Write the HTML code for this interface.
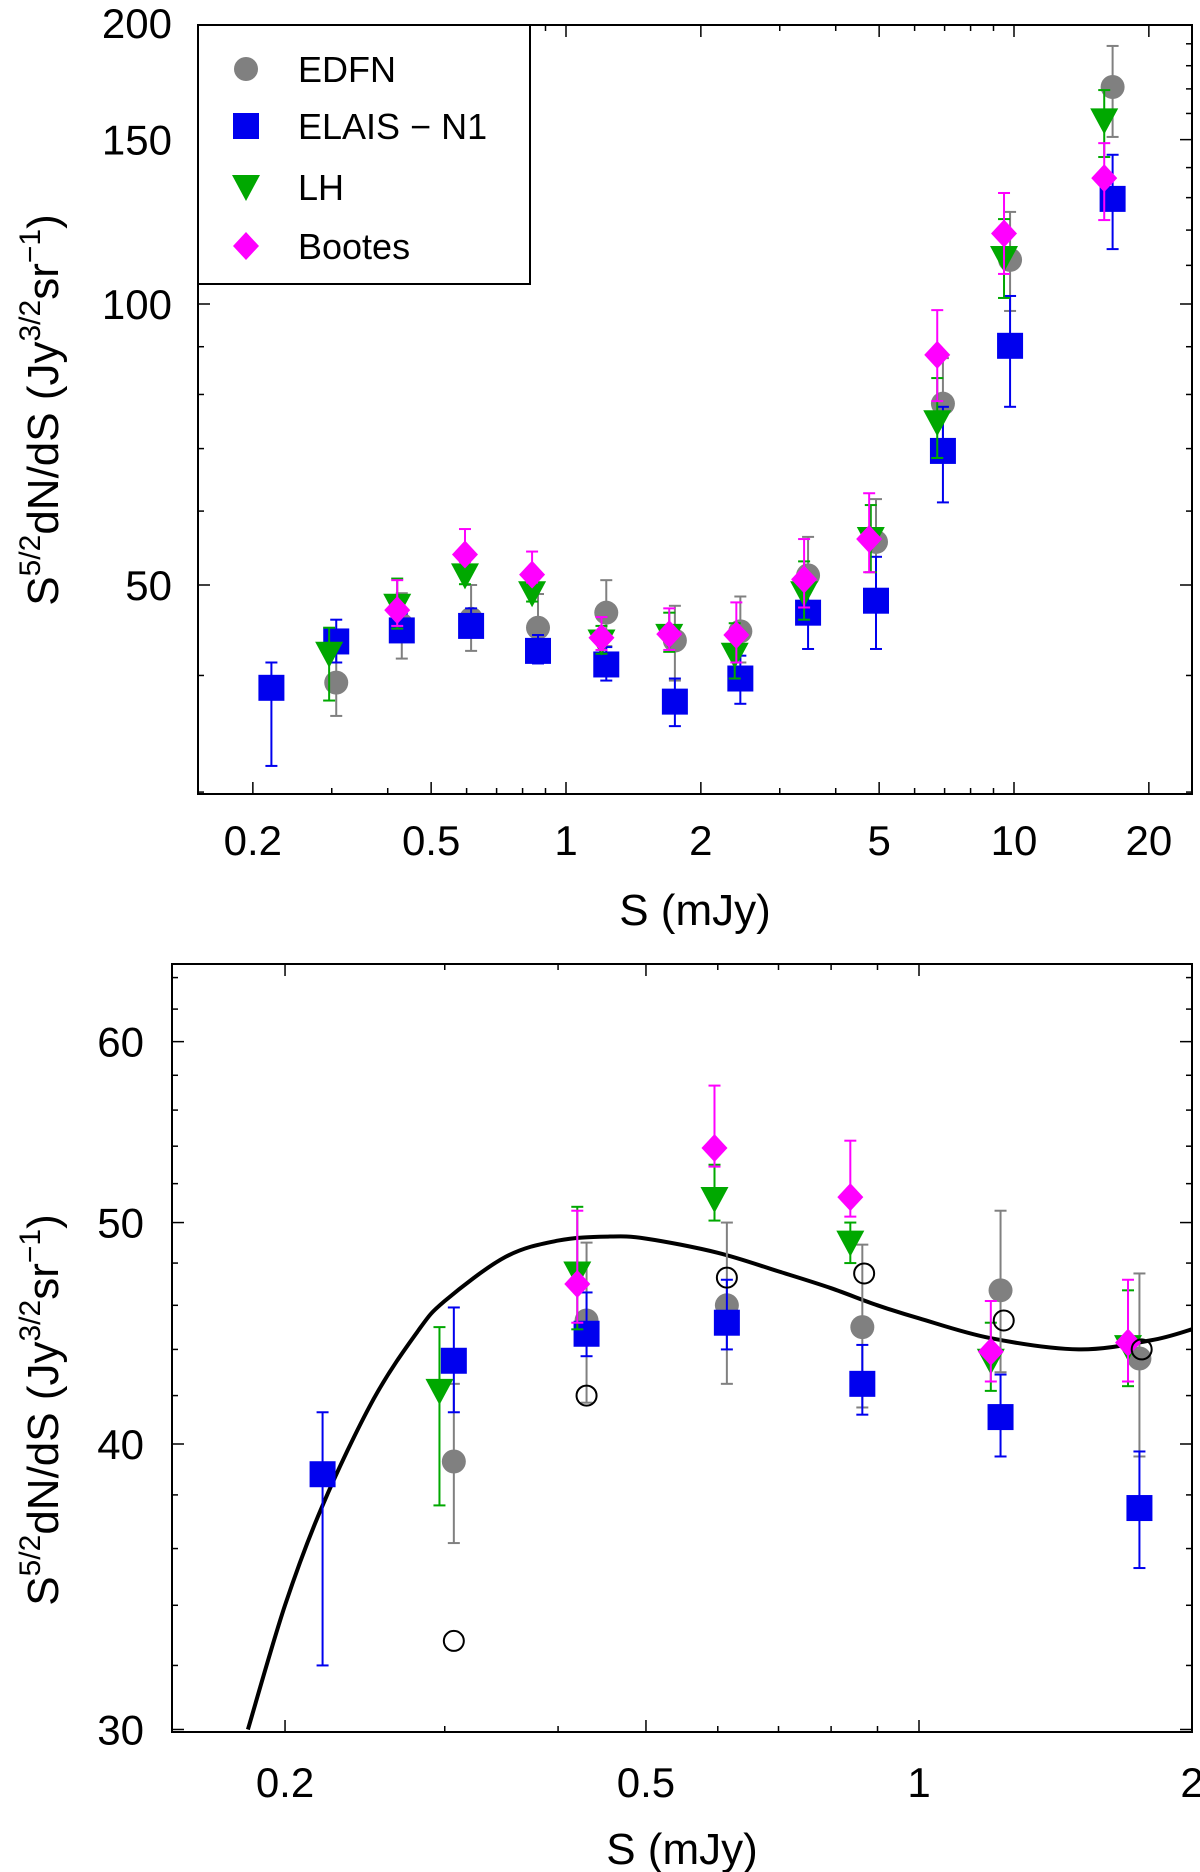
<!DOCTYPE html>
<html><head><meta charset="utf-8"><style>
html,body{margin:0;padding:0;background:#fff}
svg{display:block;font-family:"Liberation Sans",sans-serif}
</style></head><body>
<svg id="fig" width="1200" height="1872" viewBox="0 0 1200 1872"></svg>
<script>
const edfnS=[0.307,0.43,0.614,0.866,1.23,1.75,2.45,3.47,4.92,6.94,9.8,16.6];
const edfnV=[39.3,45.3,46.0,45.0,46.7,43.6,44.6,51.2,55.6,78.2,111.5,170.8];
const edfnLo=[36.2,41.7,42.5,41.5,43.0,39.5,41.3,45.9,49.5,68.4,98.3,151];
const edfnHi=[42.5,49.0,50.0,48.9,50.6,47.5,48.6,56.3,61.8,87.5,125.5,189];
const elaisS=[0.22,0.307,0.43,0.614,0.866,1.23,1.75,2.45,3.47,4.92,6.94,9.8,16.6];
const elaisV=[38.8,43.5,44.7,45.2,42.5,41.1,37.5,39.7,46.7,48.1,69.6,90.2,129.6];
const elaisLo=[32.0,41.3,43.7,44.0,41.2,39.5,35.3,37.3,42.7,42.7,61.3,77.6,114.5];
const elaisHi=[41.3,45.9,46.6,47.2,44.2,42.9,39.7,42.0,50.9,53.6,77.6,102,144.5];
const lhS=[0.296,0.42,0.595,0.84,1.2,1.70,2.38,3.40,4.79,6.74,9.5,15.9];
const lhV=[42.2,47.5,51.2,49.0,43.5,44.1,42.1,49.0,56.0,74.7,112,157.3];
const lhLo=[37.6,44.9,50.1,48.0,42.2,42.4,39.7,45.9,51.6,68.4,101.5,143.7];
const lhHi=[45.0,50.8,53.0,50.0,45.2,46.7,45.5,53.0,60.9,83.3,123.3,169.5];
const bootS=[0.42,0.595,0.84,1.2,1.70,2.40,3.4,4.75,6.74,9.5,15.9];
const bootV=[47.0,53.9,51.3,43.9,44.3,44.2,50.7,56.0,88.2,119,136.4];
const bootLo=[45.2,52.9,50.3,42.6,42.6,41.3,47.3,51.6,78.7,107.7,123];
const bootHi=[50.6,57.4,54.3,46.2,47.2,47.9,56.0,62.7,98.5,131.5,148.7];
const openS=[0.307,0.43,0.614,0.87,1.24,1.76];
const openV=[32.8,42.0,47.3,47.5,45.3,44.0];
const curveS=[0.182,0.2,0.22,0.25,0.28,0.3,0.35,0.4,0.454,0.5,0.6,0.7,0.8,0.9,1.0,1.2,1.5,1.8,2.0];
const curveV=[30,34.0,37.6,41.8,44.8,46.2,48.3,49.1,49.3,49.2,48.5,47.6,46.8,46.0,45.4,44.5,44.0,44.4,44.9];
const topXTicks=[0.2,0.5,1,2,5,10,20];
const topXLabels=["0.2","0.5","1","2","5","10","20"];
const topYTicks=[50,100,150,200];
const topYLabels=["50","100","150","200"];
const botXTicks=[0.2,0.5,1,2];
const botXLabels=["0.2","0.5","1","2"];
const botYTicks=[30,40,50,60];
const botYLabels=["30","40","50","60"];

const NS="http://www.w3.org/2000/svg";
const svg=document.getElementById('fig');
function mk(tag,attrs,parent){const e=document.createElementNS(NS,tag);for(const k in attrs)e.setAttribute(k,attrs[k]);(parent||svg).appendChild(e);return e;}
const L=Math.log10;

function panel(cfg){
  const g=mk('g',{});
  
  
  const x=s=>cfg.x0+cfg.kx*L(s);
  const y=v=>cfg.y0-cfg.ky*L(v/cfg.yref);
  const left=cfg.left,right=cfg.right,tp=cfg.tp,bottom=cfg.bottom;
  const minX=[];for(let d=0.1;d<100;d*=10)for(let m=1;m<10;m++)minX.push(d*m);
  minX.forEach(s=>{const px=x(s);if(px<=left||px>=right)return;
    const major=cfg.xt.some(t=>Math.abs(t-s)<1e-9);const len=major?12:6;
    mk('line',{x1:px,y1:bottom,x2:px,y2:bottom-len,stroke:'#000','stroke-width':1.5},g);
    mk('line',{x1:px,y1:tp,x2:px,y2:tp+len,stroke:'#000','stroke-width':1.5},g);});
  const minY=[];for(let v=cfg.ymin;v<=cfg.ymax;v+=cfg.ystep)minY.push(v);
  minY.forEach(v=>{const py=y(v);if(py<=tp||py>=bottom)return;
    const major=cfg.yt.includes(v);const len=major?12:6;
    mk('line',{x1:left,y1:py,x2:left+len,y2:py,stroke:'#000','stroke-width':1.5},g);
    mk('line',{x1:right,y1:py,x2:right-len,y2:py,stroke:'#000','stroke-width':1.5},g);});
  const fr=mk('rect',{x:left,y:tp,width:right-left,height:bottom-tp,fill:'none',stroke:'#000','stroke-width':2},g);
  
  
  cfg.xt.forEach((s,i)=>{const t=mk('text',{x:x(s),y:cfg.xly,'font-size':42,'text-anchor':'middle'},g);t.textContent=cfg.xl[i];
    
    });
  cfg.yt.forEach((v,i)=>{const t=mk('text',{x:cfg.ylx,y:y(v)+15,'font-size':42,'text-anchor':'end'},g);t.textContent=cfg.yl[i];
    
    });
  const xt=mk('text',{x:(left+right)/2,y:cfg.xtitleY,'font-size':44,'text-anchor':'middle'},g);xt.textContent='S (mJy)';
  
  
  const yt=mk('text',{x:0,y:0,'font-size':44,'text-anchor':'middle',transform:`translate(${cfg.ytitleX},${cfg.ytitleY}) rotate(-90)`},g);
  yt.innerHTML='S<tspan font-size="30" dy="-18">5/2</tspan><tspan dy="18">dN/dS (Jy</tspan><tspan font-size="30" dy="-18">3/2</tspan><tspan dy="18">sr</tspan><tspan font-size="30" dy="-18">−1</tspan><tspan dy="18">)</tspan>';
  
  
  const clip='clip-'+cfg.name;
  const cp=mk('clipPath',{id:clip},g);mk('rect',{x:left,y:tp,width:right-left,height:bottom-tp},cp);
  const plot=mk('g',{'clip-path':`url(#${clip})`},g);
  return {g,plot,x,y};
}
function errbar(p,par,s,lo,hi,col){
  const px=p.x(s);
  mk('line',{x1:px,y1:p.y(lo),x2:px,y2:p.y(hi),stroke:col,'stroke-width':2},par);
  mk('line',{x1:px-6,y1:p.y(lo),x2:px+6,y2:p.y(lo),stroke:col,'stroke-width':2},par);
  mk('line',{x1:px-6,y1:p.y(hi),x2:px+6,y2:p.y(hi),stroke:col,'stroke-width':2},par);
}
function marker(par,type,cx,cy,col){
  if(type==='circle')return mk('circle',{cx,cy,r:12,fill:col},par);
  if(type==='square')return mk('rect',{x:cx-13,y:cy-13,width:26,height:26,fill:col},par);
  if(type==='tri')return mk('polygon',{points:`${cx-14},${cy-12} ${cx+14},${cy-12} ${cx},${cy+14}`,fill:col},par);
  if(type==='diamond')return mk('polygon',{points:`${cx},${cy-14} ${cx+13},${cy} ${cx},${cy+14} ${cx-13},${cy}`,fill:col},par);
  if(type==='open')return mk('circle',{cx,cy,r:10,fill:'none',stroke:'#000','stroke-width':2},par);
}
const series=[
 {name:'edfn',S:edfnS,V:edfnV,lo:edfnLo,hi:edfnHi,col:'#808080',type:'circle'},
 {name:'elais-n1',S:elaisS,V:elaisV,lo:elaisLo,hi:elaisHi,col:'#0000ee',type:'square'},
 {name:'lh',S:lhS,V:lhV,lo:lhLo,hi:lhHi,col:'#00a800',type:'tri'},
 {name:'bootes',S:bootS,V:bootV,lo:bootLo,hi:bootHi,col:'#ff00ff',type:'diamond'}];
function drawSeries(p,maxS){
  series.forEach(se=>{
    const sg=mk('g',{},p.plot);
    
    
    se.S.forEach((s,i)=>{ if(s>maxS)return;
      errbar(p,sg,s,se.lo[i],se.hi[i],se.col);
      const m=marker(sg,se.type,p.x(s),p.y(se.V[i]),se.col);
      
      
    });
  });
}
const topPanel=panel({name:'top-panel',left:198,right:1192,tp:25,bottom:794,x0:566,kx:448,y0:304,ky:281/Math.log10(2),yref:100,
  xt:topXTicks,xl:topXLabels,yt:topYTicks,yl:topYLabels,ymin:30,ymax:200,ystep:10,xly:855,ylx:172,xtitleY:925,ytitleX:58,ytitleY:410});
drawSeries(topPanel,100);
const lg=mk('g',{},topPanel.g);


mk('rect',{x:198,y:25,width:332,height:259,fill:'#fff',stroke:'#000','stroke-width':2},lg);
const legNames=['EDFN','ELAIS − N1','LH','Bootes'];
const legY=[69,126,187,246];
series.forEach((se,i)=>{
  const e=mk('g',{},lg);
  
  
  marker(e,se.type,246,legY[i],se.col);
  const t=mk('text',{x:298,y:legY[i]+13,'font-size':36},e);t.textContent=legNames[i];
});
const botPanel=panel({name:'bottom-panel',left:172,right:1192,tp:964,bottom:1732,x0:919,kx:907,y0:1444,ky:2285,yref:40,
  xt:botXTicks,xl:botXLabels,yt:botYTicks,yl:botYLabels,ymin:30,ymax:65,ystep:2,xly:1797,ylx:144,xtitleY:1864,ytitleX:58,ytitleY:1410});
const cp=curveS.map((s,i)=>[botPanel.x(s),botPanel.y(curveV[i])]);
let d='M'+cp[0][0].toFixed(1)+','+cp[0][1].toFixed(1);
for(let i=0;i<cp.length-1;i++){
  const p0=cp[Math.max(0,i-1)],p1=cp[i],p2=cp[i+1],p3=cp[Math.min(cp.length-1,i+2)];
  const c1=[p1[0]+(p2[0]-p0[0])/6,p1[1]+(p2[1]-p0[1])/6];
  const c2=[p2[0]-(p3[0]-p1[0])/6,p2[1]-(p3[1]-p1[1])/6];
  d+=`C${c1[0].toFixed(1)},${c1[1].toFixed(1)} ${c2[0].toFixed(1)},${c2[1].toFixed(1)} ${p2[0].toFixed(1)},${p2[1].toFixed(1)}`;
}
const cv=mk('path',{d,fill:'none',stroke:'#000','stroke-width':4,'stroke-linejoin':'round'},botPanel.plot);


drawSeries(botPanel,2.1);
const og=mk('g',{},botPanel.plot);


openS.forEach((s,i)=>{const m=marker(og,'open',botPanel.x(s),botPanel.y(openV[i]));
  
  });
</script>
</body></html>
